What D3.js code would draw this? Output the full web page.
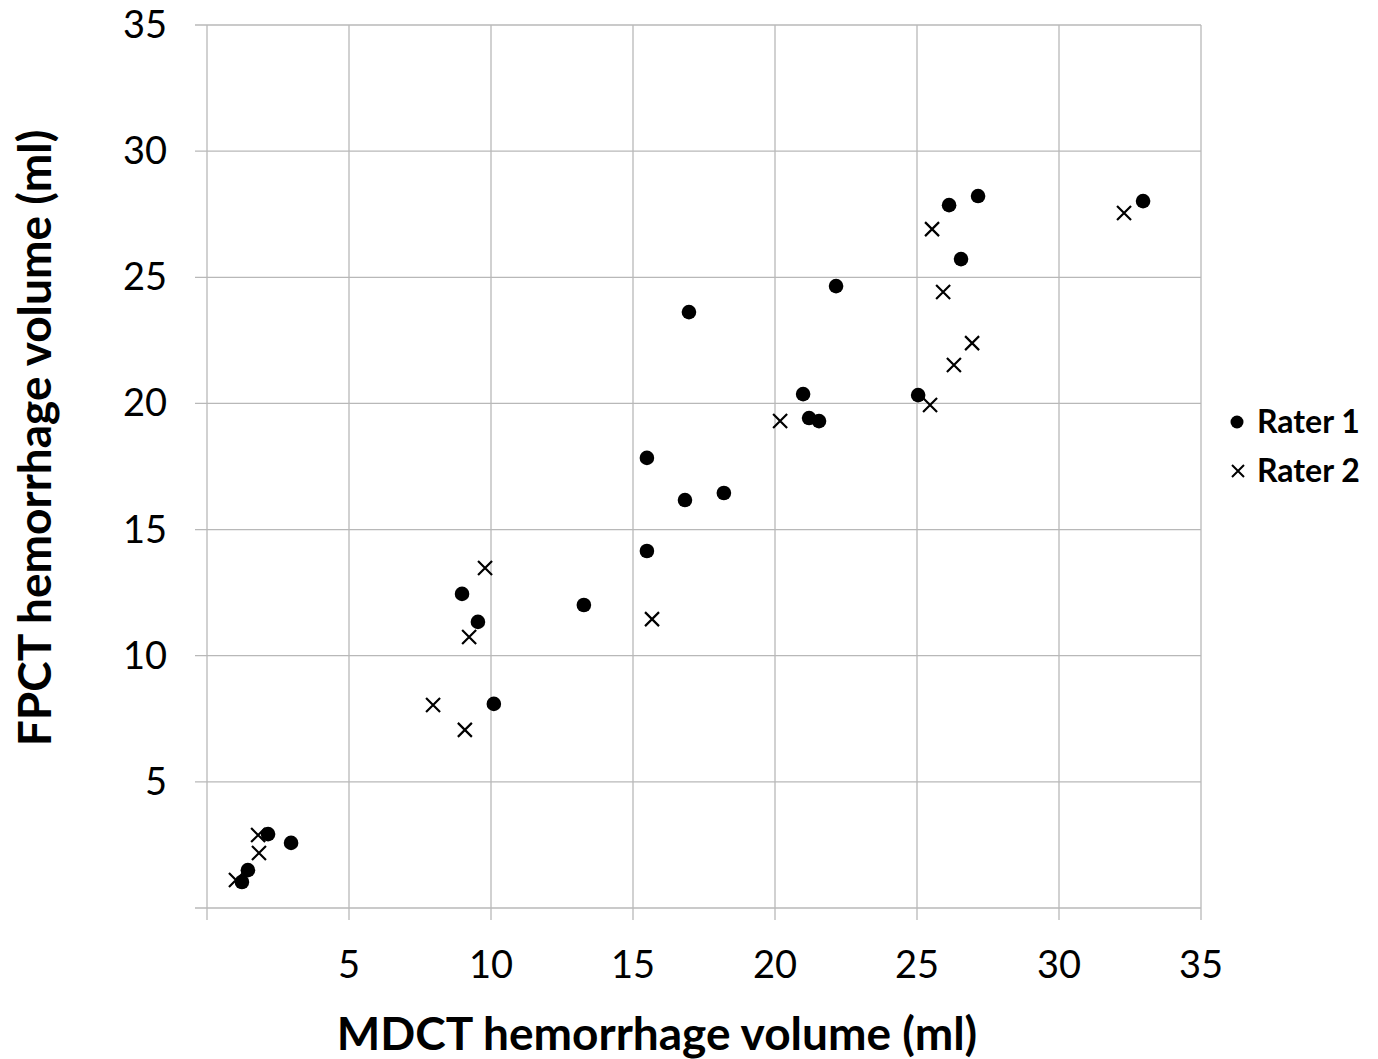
<!DOCTYPE html>
<html>
<head>
<meta charset="utf-8">
<script src="https://cdn.jsdelivr.net/npm/d3@7"></script>
<style>
  body { margin: 0; background: #fff; }
  text { font-family: Lato, "Open Sans", sans-serif; fill: #000; }
</style>
</head>
<body>
<div id="wrapper"></div>
<script>
// rater 1 (dots) : MDCT vs FPCT volume (ml)
const rater1_x = [1.23, 1.44, 2.15, 2.96, 8.98, 9.54, 10.1, 13.27, 15.49, 15.49, 16.83, 16.97, 18.2, 20.99, 21.2, 21.55, 22.15, 25.04, 26.13, 26.55, 27.15, 32.96]
const rater1_y = [1.03, 1.5, 2.93, 2.58, 12.45, 11.34, 8.09, 12.01, 14.15, 17.84, 16.17, 23.62, 16.45, 20.37, 19.42, 19.3, 24.65, 20.33, 27.86, 25.72, 28.22, 28.02]
// rater 2 (crosses)
const rater2_x = [1.02, 1.83, 1.8, 7.96, 9.08, 9.23, 9.79, 15.67, 20.18, 25.53, 25.92, 26.3, 26.94, 25.46, 32.29]
const rater2_y = [1.11, 2.18, 2.89, 8.05, 7.06, 10.74, 13.48, 11.45, 19.3, 26.91, 24.42, 21.52, 22.39, 19.94, 27.55]

const tick_values = [5, 10, 15, 20, 25, 30, 35]
const series_names = ["Rater 1", "Rater 2"]

async function drawScatter() {
  const rater1 = rater1_x.map((x, i) => ({x: x, y: rater1_y[i]}))
  const rater2 = rater2_x.map((x, i) => ({x: x, y: rater2_y[i]}))

  let dim = {
    width: 1378,
    height: 1059,
    margin: { top: 25, right: 177, bottom: 151, left: 207 },
  }
  dim.bound_width = dim.width - dim.margin.left - dim.margin.right
  dim.bound_height = dim.height - dim.margin.top - dim.margin.bottom

  const wrapper = d3.select("#wrapper")
    .append("svg")
    .attr("width", dim.width)
    .attr("height", dim.height)

  const chart = wrapper.append("g")
    .attr("transform", `translate(${dim.margin.left}, ${dim.margin.top})`)

  const x_scale = d3.scaleLinear()
    .domain([0, 35])
    .range([0, dim.bound_width])
  const y_scale = d3.scaleLinear()
    .domain([0, 35])
    .range([dim.bound_height, 0])

  // gridlines (with little tick overhang)
  const grid_color = "#b8b8b8"
  chart.append("g")
    .selectAll("line")
    .data([0].concat(tick_values))
    .join("line")
    .attr("x1", d => x_scale(d)).attr("x2", d => x_scale(d))
    .attr("y1", 0).attr("y2", dim.bound_height + 12)
    .attr("stroke", grid_color).attr("stroke-width", 1.3)
  chart.append("g")
    .selectAll("line")
    .data([0].concat(tick_values))
    .join("line")
    .attr("y1", d => y_scale(d)).attr("y2", d => y_scale(d))
    .attr("x1", -12).attr("x2", dim.bound_width)
    .attr("stroke", grid_color).attr("stroke-width", 1.3)

  // tick labels
  chart.append("g")
    .selectAll("text")
    .data(tick_values)
    .join("text")
    .attr("x", d => x_scale(d))
    .attr("y", dim.bound_height + 70)
    .attr("text-anchor", "middle")
    .style("font-size", "38px")
    .text(d => d)
  chart.append("g")
    .selectAll("text")
    .data(tick_values)
    .join("text")
    .attr("x", -40)
    .attr("y", d => y_scale(d) + 13)
    .attr("text-anchor", "end")
    .style("font-size", "38px")
    .text(d => d)

  // axis titles
  wrapper.append("text")
    .attr("x", 657)
    .attr("y", 1050)
    .attr("text-anchor", "middle")
    .style("font-size", "46px")
    .style("font-weight", "bold")
    .text("MDCT hemorrhage volume (ml)")
  wrapper.append("text")
    .attr("transform", "translate(51, 438) rotate(-90)")
    .attr("text-anchor", "middle")
    .style("font-size", "46px")
    .style("font-weight", "bold")
    .text("FPCT hemorrhage volume (ml)")

  // data
  const cross = 7
  chart.append("g")
    .selectAll("path")
    .data(rater2)
    .join("path")
    .attr("d", d => {
      const cx = x_scale(d.x), cy = y_scale(d.y)
      return `M${cx - cross},${cy - cross}L${cx + cross},${cy + cross}M${cx - cross},${cy + cross}L${cx + cross},${cy - cross}`
    })
    .attr("stroke", "#000")
    .attr("stroke-width", 2.2)
  chart.append("g")
    .selectAll("circle")
    .data(rater1)
    .join("circle")
    .attr("cx", d => x_scale(d.x))
    .attr("cy", d => y_scale(d.y))
    .attr("r", 7.3)
    .attr("fill", "#000")

  // legend
  const legend = wrapper.append("g")
  legend.append("circle").attr("cx", 1237).attr("cy", 422).attr("r", 6.5).attr("fill", "#000")
  legend.append("path")
    .attr("d", "M1232,465L1244,477M1232,477L1244,465")
    .attr("stroke", "#000").attr("stroke-width", 2)
  legend.selectAll("text")
    .data(series_names)
    .join("text")
    .attr("x", 1257)
    .attr("y", (d, i) => 433 + i * 49)
    .style("font-size", "32px")
    .style("font-weight", "bold")
    .text(d => d)
}
drawScatter()
</script>
</body>
</html>
